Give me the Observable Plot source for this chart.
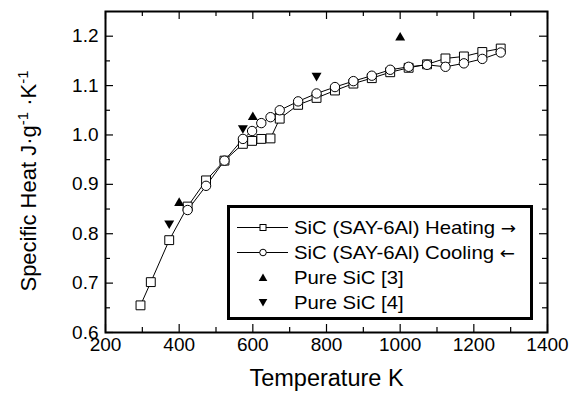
<!DOCTYPE html>
<html><head><meta charset="utf-8">
<script src="https://cdn.jsdelivr.net/npm/d3@7"></script>
<script src="https://cdn.jsdelivr.net/npm/@observablehq/plot@0.6"></script>
<style>
body{margin:0;background:#fff;font-family:"Liberation Sans",Arial,Helvetica,sans-serif;}
#wrap{position:relative;width:569px;height:394px;}
#legend{position:absolute;left:227px;top:205px;width:306px;height:115px;box-sizing:border-box;border:3px solid #000;background:#fff;padding-top:7px;}
.row{height:25px;display:flex;align-items:center;font-size:19px;color:#000;white-space:nowrap;}
.row svg{width:64px;height:25px;flex:none;}
.row .lab{display:inline-block;transform:scaleX(1.07);transform-origin:left center;}
.row .arrow{font-family:"DejaVu Sans",sans-serif;font-size:17px;}
</style></head>
<body><div id="wrap"></div>
<script>
// ---- data ----
const heatT  = [295, 323, 373, 423, 473, 523, 573, 598, 623, 648, 673, 723, 773, 823, 873, 923, 973, 1023, 1073, 1123, 1173, 1223, 1273];
const heatCp = [0.655, 0.702, 0.787, 0.855, 0.908, 0.948, 0.982, 0.988, 0.992, 0.993, 1.033, 1.061, 1.075, 1.090, 1.104, 1.115, 1.127, 1.136, 1.143, 1.155, 1.159, 1.168, 1.175];
const coolT  = [423, 473, 523, 573, 598, 623, 648, 673, 723, 773, 823, 873, 923, 973, 1023, 1073, 1123, 1173, 1223, 1273];
const coolCp = [0.848, 0.897, 0.948, 0.992, 1.008, 1.024, 1.036, 1.050, 1.068, 1.084, 1.097, 1.109, 1.120, 1.132, 1.138, 1.142, 1.138, 1.145, 1.154, 1.167];
const ref3T  = [400, 600, 1000];
const ref3Cp = [0.862, 1.036, 1.197];
const ref4T  = [373, 573, 773];
const ref4Cp = [0.821, 1.014, 1.120];

const xMajor = [200, 400, 600, 800, 1000, 1200, 1400];
const xMinor = [300, 500, 700, 900, 1100, 1300];
const yMajor = [0.6, 0.7, 0.8, 0.9, 1.0, 1.1, 1.2];
const yMinor = [0.65, 0.75, 0.85, 0.95, 1.05, 1.15];

const xLabel = "Temperature K";
const yLabelParts = [{text: "Specific Heat J·g"}, {text: "-1", sup: true}, {text: " ·K"}, {text: "-1", sup: true}];
const legendLabels = ["SiC (SAY-6Al) Heating →", "SiC (SAY-6Al) Cooling ←", "Pure SiC [3]", "Pure SiC [4]"];

// ---- build ----
const heating = heatT.map((t, i) => ({t, cp: heatCp[i]}));
const cooling = coolT.map((t, i) => ({t, cp: coolCp[i]}));
const ref3 = ref3T.map((t, i) => ({t, cp: ref3Cp[i]}));
const ref4 = ref4T.map((t, i) => ({t, cp: ref4Cp[i]}));

const sqrt3 = Math.sqrt(3);
const triUp = {draw(c, size) { const y = -Math.sqrt(size / (sqrt3 * 3)); c.moveTo(0, y * 2); c.lineTo(-sqrt3 * y, -y); c.lineTo(sqrt3 * y, -y); c.closePath(); }};
const triDown = {draw(c, size) { const y = Math.sqrt(size / (sqrt3 * 3)); c.moveTo(0, y * 2); c.lineTo(-sqrt3 * y, -y); c.lineTo(sqrt3 * y, -y); c.closePath(); }};

const W = 569, H = 394, mL = 105, mR = 22, mT = 11, mB = 62;
const pW = W - mL - mR, pH = H - mT - mB;
const yLabelText = yLabelParts.map(p => p.text).join("");

const chart = Plot.plot({
  width: W, height: H,
  marginLeft: mL, marginRight: mR, marginTop: mT, marginBottom: mB,
  style: {fontFamily: '"Liberation Sans", Arial, Helvetica, sans-serif', fontSize: "19px", color: "#000", background: "#fff", overflow: "visible"},
  x: {domain: [200, 1400]},
  y: {domain: [0.6, 1.25]},
  marks: [
    // inward ticks
    Plot.tickX(xMajor, {x: d => d, insetTop: pH - 8, stroke: "#000", strokeWidth: 1.2}),
    Plot.tickX(xMajor, {x: d => d, insetBottom: pH - 8, stroke: "#000", strokeWidth: 1.2}),
    Plot.tickX(xMinor, {x: d => d, insetTop: pH - 5, stroke: "#000", strokeWidth: 1.2}),
    Plot.tickX(xMinor, {x: d => d, insetBottom: pH - 5, stroke: "#000", strokeWidth: 1.2}),
    Plot.tickY(yMajor, {y: d => d, insetRight: pW - 8, stroke: "#000", strokeWidth: 1.2}),
    Plot.tickY(yMajor, {y: d => d, insetLeft: pW - 8, stroke: "#000", strokeWidth: 1.2}),
    Plot.tickY(yMinor, {y: d => d, insetRight: pW - 5, stroke: "#000", strokeWidth: 1.2}),
    Plot.tickY(yMinor, {y: d => d, insetLeft: pW - 5, stroke: "#000", strokeWidth: 1.2}),
    // tick labels
    Plot.axisX({ticks: xMajor, tickSize: 0, tickPadding: 5, tickFormat: d => String(d), label: null, fontSize: 19}),
    Plot.axisY({ticks: yMajor, tickSize: 0, tickPadding: 7, tickFormat: d => d.toFixed(1), label: null, fontSize: 19}),
    // data
    Plot.line(heating, {x: "t", y: "cp", stroke: "#000", strokeWidth: 1}),
    Plot.line(cooling, {x: "t", y: "cp", stroke: "#000", strokeWidth: 1}),
    Plot.dot(heating, {x: "t", y: "cp", symbol: "square", r: 5, fill: "#fff", stroke: "#000", strokeWidth: 1}),
    Plot.dot(cooling, {x: "t", y: "cp", symbol: "circle", r: 4.7, fill: "#fff", stroke: "#000", strokeWidth: 1}),
    Plot.dot(ref3, {x: "t", y: "cp", symbol: triUp, r: 3.7, fill: "#000", stroke: "none"}),
    Plot.dot(ref4, {x: "t", y: "cp", symbol: triDown, r: 3.7, fill: "#000", stroke: "none"}),
    // axis titles
    Plot.text([xLabel], {frameAnchor: "bottom", dy: 46, fontSize: 23.5, lineAnchor: "middle", textAnchor: "middle", fill: "#000"}),
    Plot.text([yLabelText], {frameAnchor: "left", rotate: -90, dx: -77, dy: 9, fontSize: 22, lineAnchor: "middle", textAnchor: "middle", fill: "#000"}),
    Plot.frame({stroke: "#000", strokeWidth: 2})
  ]
});

// superscripts in y label
d3.select(chart).selectAll("text").filter(function () { return this.textContent === yLabelText; }).each(function () {
  const t = d3.select(this);
  t.text(null);
  yLabelParts.forEach(p => {
    const s = t.append("tspan").text(p.text);
    if (p.sup) s.attr("baseline-shift", "super").attr("font-size", "15px");
  });
});

const wrap = document.getElementById("wrap");
wrap.appendChild(chart);

// legend
const legend = document.createElement("div");
legend.id = "legend";
const symbols = [
  '<line x1="7" x2="58" y1="12.5" y2="12.5" stroke="#000" stroke-width="1"/><rect x="30" y="9.5" width="6" height="6" fill="#fff" stroke="#000" stroke-width="1"/>',
  '<line x1="7" x2="58" y1="12.5" y2="12.5" stroke="#000" stroke-width="1"/><circle cx="33" cy="12.5" r="3.3" fill="#fff" stroke="#000" stroke-width="1"/>',
  '<path d="M33,8.5 L37.3,16 L28.7,16 Z" fill="#000"/>',
  '<path d="M33,16.5 L37.3,9 L28.7,9 Z" fill="#000"/>'
];
legendLabels.forEach((lab, i) => {
  const row = document.createElement("div");
  row.className = "row";
  row.innerHTML = `<svg viewBox="0 0 64 25">${symbols[i]}</svg><span class="lab"></span>`;
  const span = row.querySelector(".lab");
  const m = lab.match(/^(.*?)([←→])$/);
  if (m) {
    span.appendChild(document.createTextNode(m[1]));
    const a = document.createElement("span");
    a.className = "arrow";
    a.textContent = m[2];
    span.appendChild(a);
  } else {
    span.textContent = lab;
  }
  legend.appendChild(row);
});
wrap.appendChild(legend);
</script>
</body></html>
